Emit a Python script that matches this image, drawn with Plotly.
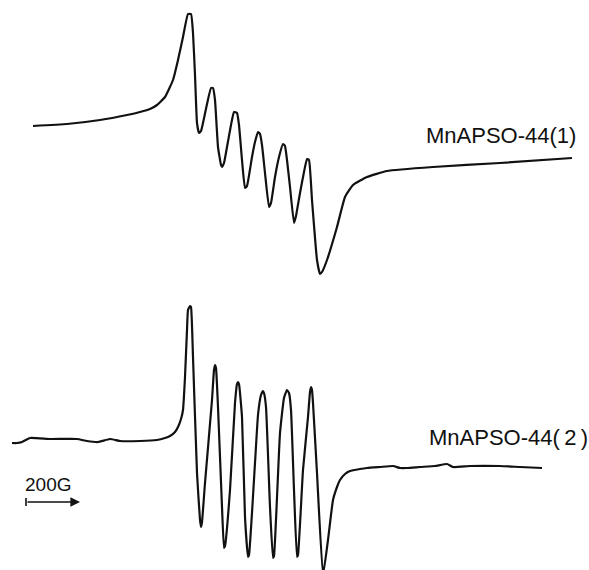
import plotly.graph_objects as go

# EPR derivative spectra of two MnAPSO-44 samples, traced as (field, signal)
# pairs in plot units (field grows to the right, signal axis is inverted).
field_1 = [33, 67, 100, 127, 140, 150, 157, 165, 173, 178, 183, 188, 191, 193, 195,
           197, 199, 201, 203, 207, 211, 213, 215, 218, 221, 222, 224, 227, 231,
           234, 237, 239, 242, 245, 247, 252, 255, 258, 260, 262, 265, 269, 271,
           275, 279, 283, 285, 287, 290, 294, 296, 300, 304, 307, 309, 312, 317,
           320, 322, 327, 337, 345, 353, 367, 387, 433, 500, 572]
signal_1 = [126, 124, 120, 115, 112, 109, 105, 97, 80, 60, 37, 14, 14, 33, 75,
            123, 133, 131, 123, 104, 88, 88, 100, 147, 165, 167, 163, 147, 125,
            112, 113, 125, 160, 188, 186, 157, 142, 132, 134, 145, 173, 207, 203,
            177, 157, 144, 146, 160, 187, 223, 216, 193, 172, 159, 160, 200, 260,
            274, 272, 260, 227, 197, 185, 177, 171, 167, 163, 158]

field_2 = [12, 17, 22, 30, 50, 77, 87, 98, 110, 120, 140, 157, 165, 170, 175,
           178, 181, 183, 185, 187, 188, 190, 191, 193, 197, 200, 201, 202, 205, 212,
           214, 215, 216, 218, 222, 224, 225, 230, 235, 237, 238, 239, 242, 245,
           248, 249, 255, 258, 261, 263, 264, 266, 270, 273, 274, 280, 284, 287,
           289, 291, 294, 297, 298, 303, 308, 310, 311, 312, 313, 317, 323, 328,
           333, 337, 340, 345, 350, 360, 367, 380, 393, 400, 407, 420, 435, 447,
           453, 470, 500, 520, 542]
signal_2 = [443, 443, 442, 438, 439, 439, 441, 442, 439, 441, 441, 440, 438, 436, 432,
            427, 419, 410, 377, 330, 310, 306, 307, 357, 473, 520, 527, 522, 483,
            400, 370, 365, 368, 407, 507, 548, 546, 490, 403, 384, 382, 384, 417,
            517, 557, 555, 463, 415, 395, 391, 393, 407, 507, 558, 556, 433, 398,
            390, 393, 410, 490, 557, 555, 470, 417, 392, 387, 390, 403, 473, 575,
            540, 500, 487, 480, 474, 471, 469, 468, 467, 466, 468, 468, 467, 466,
            464, 467, 466, 466, 467, 468]

labels = ["MnAPSO-44(1)", "MnAPSO-44(\u20092\u2009)"]
scale_text = "200G"

ink = "#111111"
font = dict(family="Liberation Sans", size=22, color=ink)

fig = go.Figure()
for fx, sy in ((field_1, signal_1), (field_2, signal_2)):
    fig.add_trace(go.Scatter(x=fx, y=sy, mode="lines",
                             line=dict(color=ink, width=2.2, shape="spline", smoothing=0.4),
                             hoverinfo="skip"))

# sample labels
fig.add_annotation(x=424, y=135, text=labels[0], showarrow=False,
                   xanchor="left", yanchor="middle", font=font)
fig.add_annotation(x=427, y=437, text=labels[1], showarrow=False,
                   xanchor="left", yanchor="middle", font=font)

# 200 G field scale bar
fig.add_annotation(x=48, y=484, text=scale_text, showarrow=False,
                   xanchor="center", yanchor="middle",
                   font=dict(family="Liberation Sans", size=19, color=ink))
fig.add_annotation(x=80, y=502, ax=26, ay=502, axref="x", ayref="y",
                   xref="x", yref="y", text="", showarrow=True,
                   arrowhead=2, arrowsize=1.2, arrowwidth=1.6, arrowcolor=ink)
fig.add_shape(type="line", x0=26, x1=26, y0=498, y1=506,
              line=dict(color=ink, width=1.6))

fig.update_xaxes(range=[0, 589], visible=False, fixedrange=True)
fig.update_yaxes(range=[570, 0], visible=False, fixedrange=True)
fig.update_layout(width=589, height=570, margin=dict(l=0, r=0, t=0, b=0),
                  plot_bgcolor="white", paper_bgcolor="white", showlegend=False)

fig.write_html("out.html")
